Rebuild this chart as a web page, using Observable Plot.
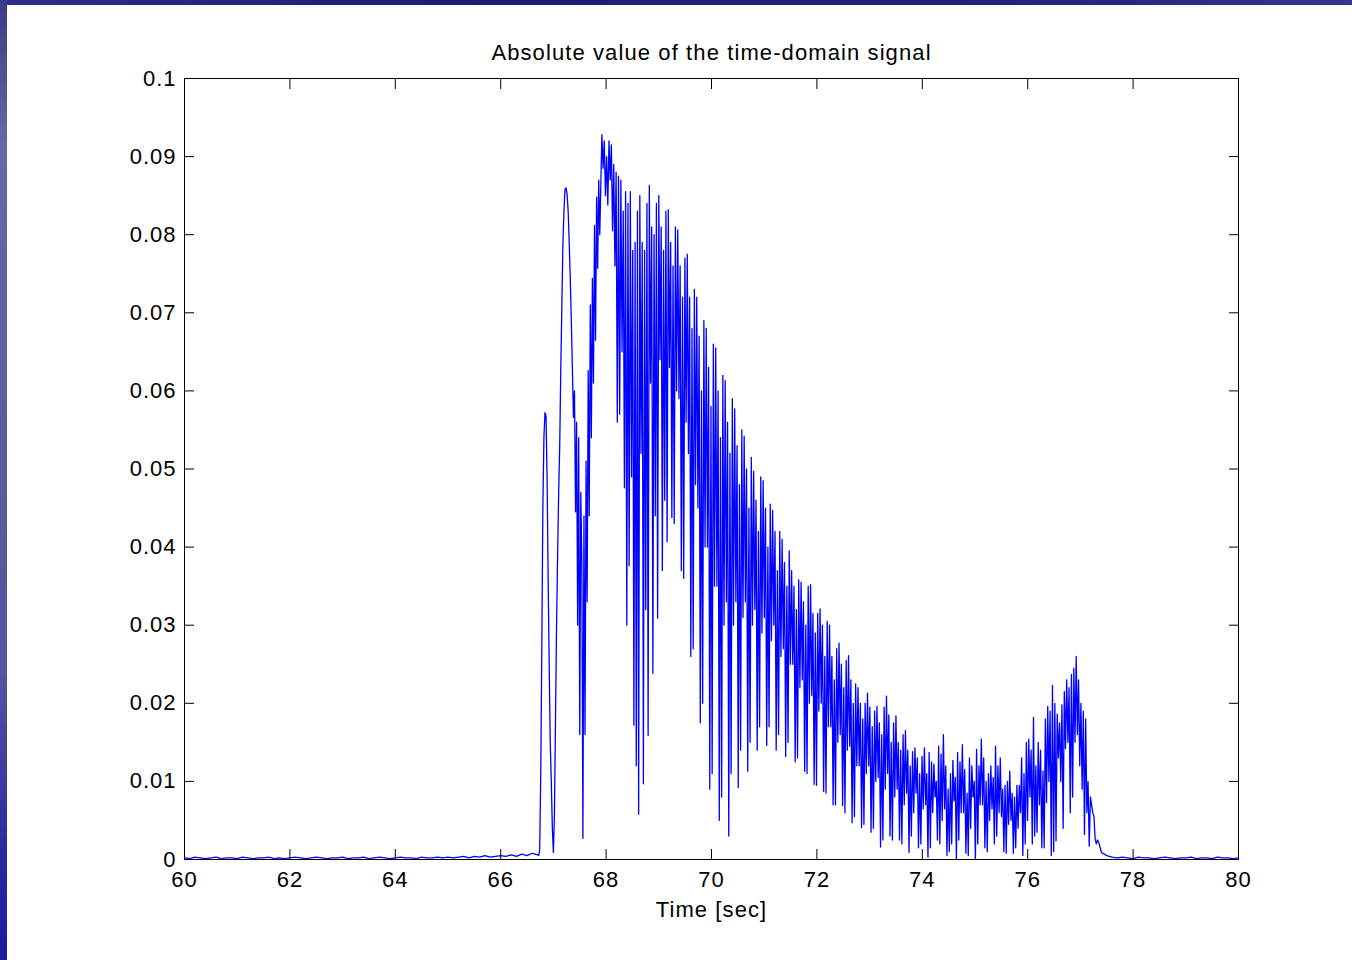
<!DOCTYPE html>
<html>
<head>
<meta charset="utf-8">
<script src="https://cdn.jsdelivr.net/npm/d3@7"></script>
<script src="https://cdn.jsdelivr.net/npm/@observablehq/plot@0.6"></script>
<style>
  html, body { margin: 0; padding: 0; background: #fff; overflow: hidden; }
  #wrap { position: relative; width: 1352px; height: 960px; background: #fff; }
  #topband { position: absolute; left: 0; top: 0; width: 1352px; height: 5px; z-index: 2;
    background: linear-gradient(90deg, #2d2d82, #1d1d6f 35%, #22227a 75%, #35358f); }
  #leftband { position: absolute; left: 0; top: 0; width: 7px; height: 960px; z-index: 2;
    background: linear-gradient(180deg, #3a3a86 0%, #6767a6 15%, #5c5c9f 45%, #5555a2 70%, #2b2b9e 88%, #1a1aa0 100%); }
</style>
</head>
<body>
<div id="wrap"><div id="topband"></div><div id="leftband"></div></div>
<script>
// ---- chart texts ----
const title = "Absolute value of the time-domain signal";
const xLabel = "Time [sec]";

// ---- tick values ----
const xTicks = [60, 62, 64, 66, 68, 70, 72, 74, 76, 78, 80];
const yTicks = [0, 0.01, 0.02, 0.03, 0.04, 0.05, 0.06, 0.07, 0.08, 0.09, 0.1];

const quietStart = 60.0, quietStep = 0.1;
const quietValues = [
  0.0002,0.0001,0.0003,0.0002,0.0001,0.0002,0.0003,0.0001,0.0002,0.0002,
  0.0001,0.0003,0.0002,0.0001,0.0002,0.0002,0.0003,0.0001,0.0002,0.0001,
  0.0002,0.0003,0.0002,0.0001,0.0002,0.0003,0.0002,0.0001,0.0002,0.0002,
  0.0003,0.0001,0.0002,0.0002,0.0003,0.0001,0.0002,0.0003,0.0002,0.0001,
  0.0002,0.0003,0.0002,0.0002,0.0001,0.0003,0.0002,0.0002,0.0003,0.0002,
  0.0003,0.0002,0.0003,0.0004,0.0002,0.0004,0.0003,0.0005,0.0003,0.0004,
  0.0005,0.0004,0.0006,0.0004,0.0007,0.0005,0.0008
];

const onsetStart = 66.70, onsetStep = 0.02;
const onsetValues = [
  0.0006,0.0005,0.0012,0.0110,0.0270,0.0450,0.0540,0.0572,0.0568,0.0490,
  0.0360,0.0250,0.0150,0.0100,0.0040,0.0009,0.0060,0.0180,0.0300,0.0390,
  0.0470,0.0530,0.0627,0.0707,0.0787,0.0830,0.0858,0.0860,0.0852,0.0830,
  0.0790,0.0745,0.0690,0.0630,0.0566,0.0600,0.0445,0.0560,0.0300,0.0540,
  0.0160,0.0470,0.0380,0.0027,0.0440,0.0160,0.0510,0.0330,0.0626,0.0440,
  0.0710,0.0540,0.0744,0.0610,0.0812,0.0665,0.0848,0.0757,0.0870,0.0800
];

// oscillation: per cycle, main peak / main trough ...
const burstStart = 67.92, burstStep = 0.0225;
const burstMain = [
  0.0928,0.0850, 0.0900,0.0870, 0.0915,0.0760, 0.0880,0.0570, 0.0870,0.0476,
  0.0855,0.0376, 0.0855,0.0172, 0.0790,0.0058, 0.0850,0.0097, 0.0780,0.0159,
  0.0863,0.0238, 0.0800,0.0309, 0.0850,0.0370, 0.0780,0.0407, 0.0832,0.0438,
  0.0760,0.0600, 0.0806,0.0370, 0.0720,0.0560, 0.0775,0.0260, 0.0680,0.0480,
  0.0720,0.0175, 0.0600,0.0400, 0.0680,0.0090, 0.0580,0.0350, 0.0655,0.0050,
  0.0540,0.0300, 0.0613,0.0030, 0.0520,0.0300, 0.0577,0.0092, 0.0480,0.0310,
  0.0542,0.0113, 0.0450,0.0300, 0.0497,0.0140, 0.0420,0.0290, 0.0485,0.0146,
  0.0400,0.0280, 0.0447,0.0140, 0.0370,0.0260, 0.0410,0.0132, 0.0350,0.0250,
  0.0370,0.0125, 0.0320,0.0220, 0.0355,0.0113, 0.0300,0.0200, 0.0352,0.0096,
  0.0290,0.0190, 0.0321,0.0087, 0.0260,0.0170, 0.0300,0.0070, 0.0230,0.0150,
  0.0277,0.0069, 0.0220,0.0140, 0.0261,0.0047, 0.0200,0.0120, 0.0220,0.0041,
  0.0180,0.0110, 0.0213,0.0035, 0.0170,0.0100, 0.0196,0.0016, 0.0160,0.0090,
  0.0209,0.0030, 0.0150,0.0080, 0.0184,0.0025, 0.0140,0.0070, 0.0165,0.0009,
  0.0120,0.0060, 0.0143,0.0015, 0.0110,0.0065, 0.0143,0.0003, 0.0137,0.0060,
  0.0122,0.0025, 0.0145,0.0050, 0.0160,0.0005, 0.0090,0.0020, 0.0127,0.0000,
  0.0137,0.0060, 0.0147,0.0008, 0.0085,0.0040, 0.0120,0.0000, 0.0141,0.0070,
  0.0154,0.0015, 0.0100,0.0050, 0.0120,0.0020, 0.0145,0.0060, 0.0130,0.0010,
  0.0095,0.0045, 0.0113,0.0008, 0.0080,0.0040, 0.0095,0.0005, 0.0110,0.0050,
  0.0154,0.0020, 0.0182,0.0035, 0.0150,0.0015, 0.0113,0.0073, 0.0196,0.0005,
  0.0223,0.0024, 0.0186,0.0100, 0.0198,0.0142, 0.0230,0.0060, 0.0237,0.0150,
  0.0260,0.0120, 0.0200,0.0032, 0.0180,0.0017, 0.0080,0.0055, 0.0026,0.0022
];
// ... and the secondary trough / secondary peak between them
const burstInner = [
  0.0885,0.0920, 0.0838,0.0920, 0.0805,0.0890, 0.0560,0.0875, 0.0650,0.0830,
  0.0300,0.0840, 0.0490,0.0780, 0.0120,0.0830, 0.0520,0.0790, 0.0320,0.0840,
  0.0610,0.0810, 0.0440,0.0840, 0.0640,0.0810, 0.0460,0.0830, 0.0630,0.0790,
  0.0430,0.0810, 0.0590,0.0760, 0.0360,0.0770, 0.0520,0.0720, 0.0270,0.0730,
  0.0450,0.0670, 0.0200,0.0690, 0.0400,0.0630, 0.0110,0.0660, 0.0350,0.0600,
  0.0080,0.0620, 0.0330,0.0560, 0.0110,0.0590, 0.0330,0.0530, 0.0140,0.0550,
  0.0330,0.0500, 0.0150,0.0515, 0.0320,0.0460, 0.0170,0.0490, 0.0310,0.0450,
  0.0170,0.0455, 0.0300,0.0420, 0.0160,0.0420, 0.0270,0.0380, 0.0150,0.0395,
  0.0250,0.0350, 0.0130,0.0358, 0.0230,0.0330, 0.0110,0.0350, 0.0210,0.0315,
  0.0095,0.0315, 0.0200,0.0300, 0.0085,0.0305, 0.0170,0.0260, 0.0070,0.0270,
  0.0160,0.0250, 0.0060,0.0255, 0.0145,0.0230, 0.0055,0.0225, 0.0120,0.0200,
  0.0045,0.0200, 0.0120,0.0195, 0.0040,0.0190, 0.0105,0.0175, 0.0025,0.0195,
  0.0110,0.0185, 0.0025,0.0175, 0.0090,0.0150, 0.0020,0.0160, 0.0085,0.0140,
  0.0030,0.0138, 0.0085,0.0130, 0.0020,0.0132, 0.0070,0.0110, 0.0015,0.0125,
  0.0080,0.0100, 0.0020,0.0135, 0.0065,0.0120, 0.0010,0.0110, 0.0075,0.0105,
  0.0025,0.0125, 0.0060,0.0115, 0.0005,0.0130, 0.0080,0.0100, 0.0020,0.0120,
  0.0070,0.0130, 0.0010,0.0110, 0.0065,0.0105, 0.0030,0.0120, 0.0055,0.0090,
  0.0008,0.0100, 0.0050,0.0085, 0.0015,0.0095, 0.0060,0.0130, 0.0020,0.0150,
  0.0080,0.0140, 0.0030,0.0120, 0.0070,0.0140, 0.0015,0.0180, 0.0100,0.0190,
  0.0010,0.0200, 0.0130,0.0175, 0.0040,0.0215, 0.0150,0.0220, 0.0080,0.0245,
  0.0160,0.0230, 0.0090,0.0190, 0.0060,0.0100, 0.0070,0.0060, 0.0020,0.0025
];

const tailStart = 77.40, tailStep = 0.1;
const tailValues = [
  0.0009,0.0005,0.0003,0.0002,0.0003,0.0002,0.0001,0.0003,0.0002,0.0002,
  0.0001,0.0002,0.0003,0.0002,0.0001,0.0002,0.0002,0.0003,0.0001,0.0002,
  0.0002,0.0001,0.0003,0.0002,0.0002,0.0001,0.0002
];

// per cycle order: main peak, secondary trough, secondary peak, main trough
const burstValues = d3.range(burstMain.length / 2).flatMap(k => [
  burstMain[2 * k], burstInner[2 * k], burstInner[2 * k + 1], burstMain[2 * k + 1]
]);

const segments = [
  [quietStart, quietStep, quietValues],
  [onsetStart, onsetStep, onsetValues],
  [burstStart, burstStep, burstValues],
  [tailStart, tailStep, tailValues]
];
const signal = segments.flatMap(([start, step, values]) =>
  values.map((v, i) => ({t: +(start + i * step).toFixed(4), v})));

const noLabel = () => "";

const chart = Plot.plot({
  width: 1352,
  height: 960,
  marginLeft: 184,
  marginRight: 114,
  marginTop: 78,
  marginBottom: 101,
  style: {
    fontFamily: '"Liberation Sans", Arial, Helvetica, sans-serif',
    fontSize: "22px",
    letterSpacing: "1px",
    color: "#000",
    background: "transparent"
  },
  x: {domain: [60, 80], label: null},
  y: {domain: [0, 0.1], label: null},
  marks: [
    Plot.line(signal, {x: "t", y: "v", stroke: "#0000ff", strokeWidth: 1.3}),
    Plot.frame({stroke: "#000"}),
    Plot.axisX(xTicks, {anchor: "bottom", tickSize: -10, tickFormat: noLabel, label: null}),
    Plot.axisX(xTicks, {anchor: "top", tickSize: -10, tickFormat: noLabel, label: null}),
    Plot.axisY(yTicks, {anchor: "left", tickSize: -10, tickFormat: noLabel, label: null}),
    Plot.axisY(yTicks, {anchor: "right", tickSize: -10, tickFormat: noLabel, label: null}),
    Plot.axisX(xTicks, {anchor: "bottom", tickSize: 0, tickPadding: 12, fontSize: 22, label: null, tickFormat: d => String(d)}),
    Plot.axisY(yTicks, {anchor: "left", tickSize: 0, tickPadding: 8, fontSize: 22, label: null, tickFormat: d => String(d)}),
    Plot.text([title], {text: d => d, frameAnchor: "top", dy: -26, fontSize: 22, lineAnchor: "middle"}),
    Plot.text([xLabel], {text: d => d, frameAnchor: "bottom", dy: 50, fontSize: 22, lineAnchor: "middle"})
  ]
});

d3.select(chart).selectAll("text")
  .filter(function() { return this.textContent === title || this.textContent === xLabel; })
  .style("letter-spacing", "1.1px");

document.getElementById("wrap").appendChild(chart);
</script>
</body>
</html>
